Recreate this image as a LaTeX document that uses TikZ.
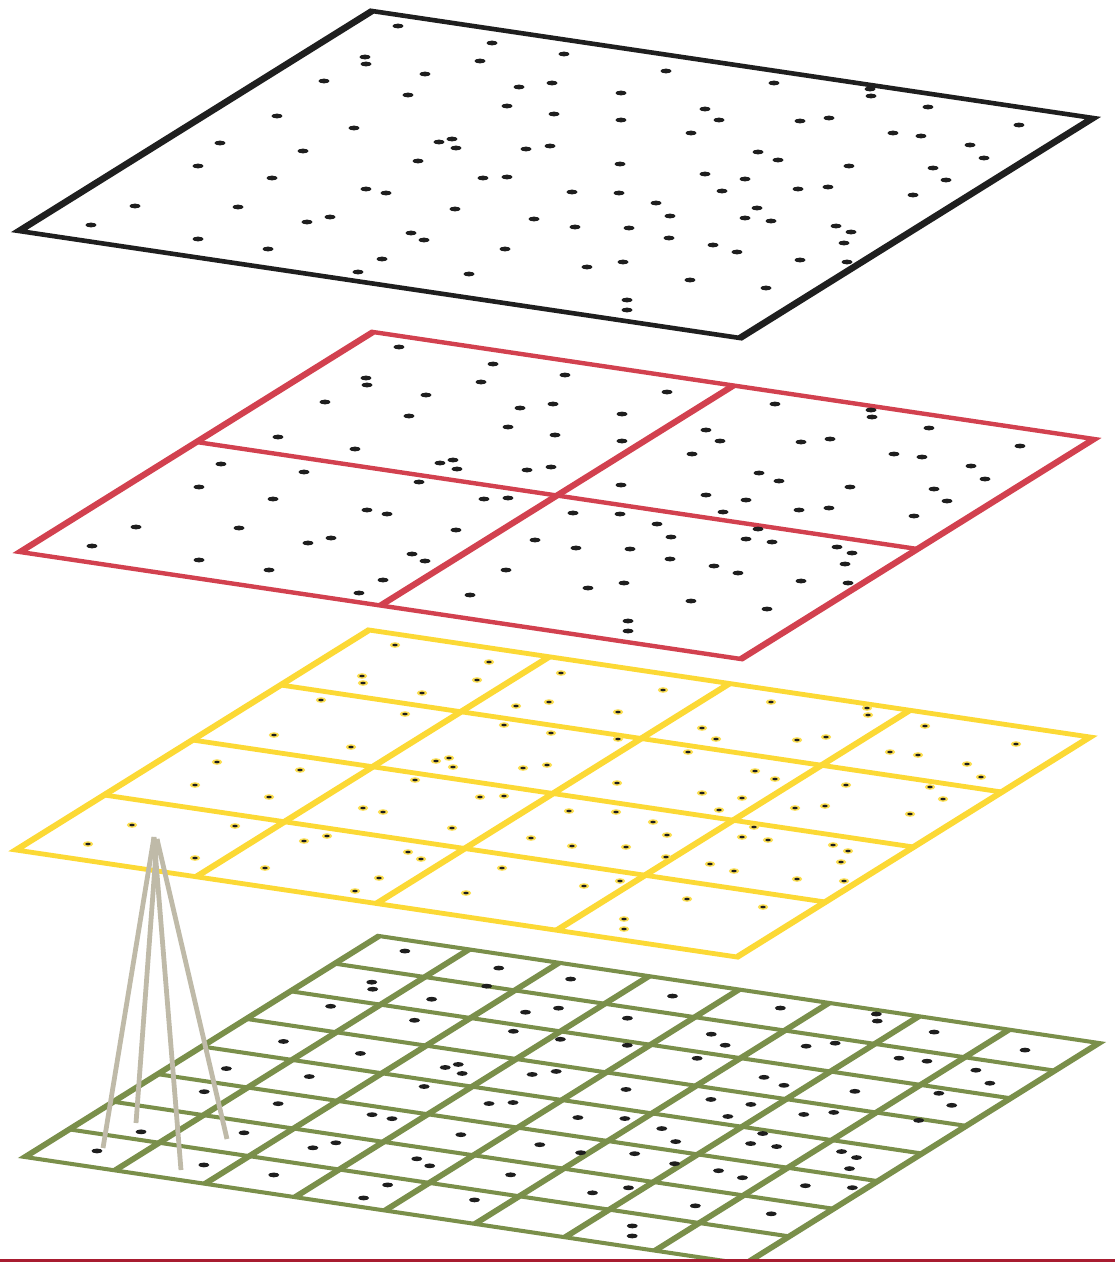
\documentclass[tikz,border=0pt]{standalone}
\usetikzlibrary{calc}

\definecolor{planeblack}{HTML}{1F1F1F}
\definecolor{planered}{HTML}{D2414F}
\definecolor{planeyellow}{HTML}{FCD935}
\definecolor{planegreen}{HTML}{7A8F4A}
\definecolor{conefan}{HTML}{BFBAA8}
\definecolor{rulered}{HTML}{A81C30}
\definecolor{pointink}{HTML}{1E1E1E}

% Sample points, given in the frame of the top plane (left corner (19,231),
% edge vectors (353,-220) and (721,107)); every plane reuses them.
\newcommand\dotlist{398/26,492/43,365/57,366/64,480/61,425/74,324/81,519/87,552/83,408/95,507/106,554/114,277/116,354/128,220/143,439/142,452/139,456/148,526/149,550/146,303/151,418/161,198/166,564/54,666/71,621/93,774/83,870/89,871/96,928/107,621/120,705/109,719/120,800/121,829/118,691/133,893/133,921/136,1019/125,758/152,778/160,970/145,984/158,620/164,849/166,933/168,705/174,272/178,483/178,507/177,366/189,386/193,135/206,238/207,455/209,534/219,330/217,307/222,91/225,411/233,424/240,198/239,268/249,505/249,382/259,358/272,469/274,946/180,745/179,572/192,619/193,722/191,798/189,828/187,913/195,656/203,757/208,670/216,745/218,771/221,575/227,629/228,836/226,851/232,669/238,713/245,737/252,844/243,587/267,623/262,800/260,847/262,690/280,766/288,627/300,627/310}

\newcommand\plaindot{\fill[pointink] (pt) ellipse [x radius=5.5pt, y radius=2.4pt];}
\newcommand\ringdot{\fill[planeyellow!85] (pt) ellipse [x radius=5.2pt, y radius=2.8pt];
  \fill[pointink] (pt) ellipse [x radius=2.7pt, y radius=1.3pt];}

% #1 left corner, #2 edge towards top corner, #3 edge towards bottom corner,
% #4 cells per side, #5 colour, #6 width of lines along #2, #7 width of lines along #3,
% #8 point marker
\newcommand\planelayer[8]{%
\begin{scope}[shift={#1}, x={#2}, y={#3}]
  \pgfmathsetmacro\du{#7*0.001856}
  \pgfmathsetmacro\dv{#6*0.001059}
  \fill[#5, even odd rule]
    (-\du,-\dv) -- (1+\du,-\dv) -- (1+\du,1+\dv) -- (-\du,1+\dv) -- cycle
    (\du,\dv) -- (1-\du,\dv) -- (1-\du,1-\dv) -- (\du,1-\dv) -- cycle;
  \ifnum#4>1
    \pgfmathtruncatemacro\last{#4-1}
    \foreach \k in {1,...,\last} {
      \fill[#5] ({\k/#4-\du},0) -- ({\k/#4+\du},0) -- ({\k/#4+\du},1) -- ({\k/#4-\du},1) -- cycle;
      \fill[#5] (0,{\k/#4-\dv}) -- (1,{\k/#4-\dv}) -- (1,{\k/#4+\dv}) -- (0,{\k/#4+\dv}) -- cycle;
    }
  \fi
  \foreach \px/\py in \dotlist {
    \pgfmathsetmacro\uu{(0.107*(\px-19)-0.721*(\py-231))/196.391}
    \pgfmathsetmacro\vv{(0.220*(\px-19)+0.353*(\py-231))/196.391}
    \coordinate (pt) at (\uu,\vv);
    #8
  }
\end{scope}}

\begin{document}
\begin{tikzpicture}[x=1pt, y=-1pt,
  fanline/.style={conefan, line width=4.8pt}]
  \useasboundingbox (0,0) rectangle (1115,1262);
  \fill[white] (0,0) rectangle (1115,1262);
  \clip (0,0) rectangle (1115,1262);

  % input plane
  \planelayer{(19,231)}{(353pt,220pt)}{(721pt,-107pt)}{1}{planeblack}{6.6}{4.6}{\plaindot}
  % 2 x 2 cells
  \planelayer{(20,552)}{(353pt,220pt)}{(721pt,-107pt)}{2}{planered}{6.2}{4.4}{\plaindot}
  % 4 x 4 cells
  \planelayer{(16,850)}{(353pt,220pt)}{(721pt,-107pt)}{4}{planeyellow}{6}{4.8}{\ringdot}
  % 8 x 8 cells
  \planelayer{(25,1157)}{(354pt,221pt)}{(720pt,-107pt)}{8}{planegreen}{5.8}{4}{\plaindot}

  % fan from one yellow cell down to the green plane
  \coordinate (apexA) at (154,837);
  \coordinate (apexB) at (157,839);
  \coordinate (foot1) at (103,1148);
  \coordinate (foot2) at (136,1123);
  \coordinate (foot3) at (181,1170);
  \coordinate (foot4) at (227,1139);
  \draw[fanline] (apexA) -- (foot1);
  \draw[fanline] (apexB) -- (foot2);
  \draw[fanline] (apexA) -- (foot3);
  \draw[fanline] (apexB) -- (foot4);

  % rule along the lower edge
  \fill[rulered] (0,1259) rectangle (1115,1262);
\end{tikzpicture}
\end{document}
